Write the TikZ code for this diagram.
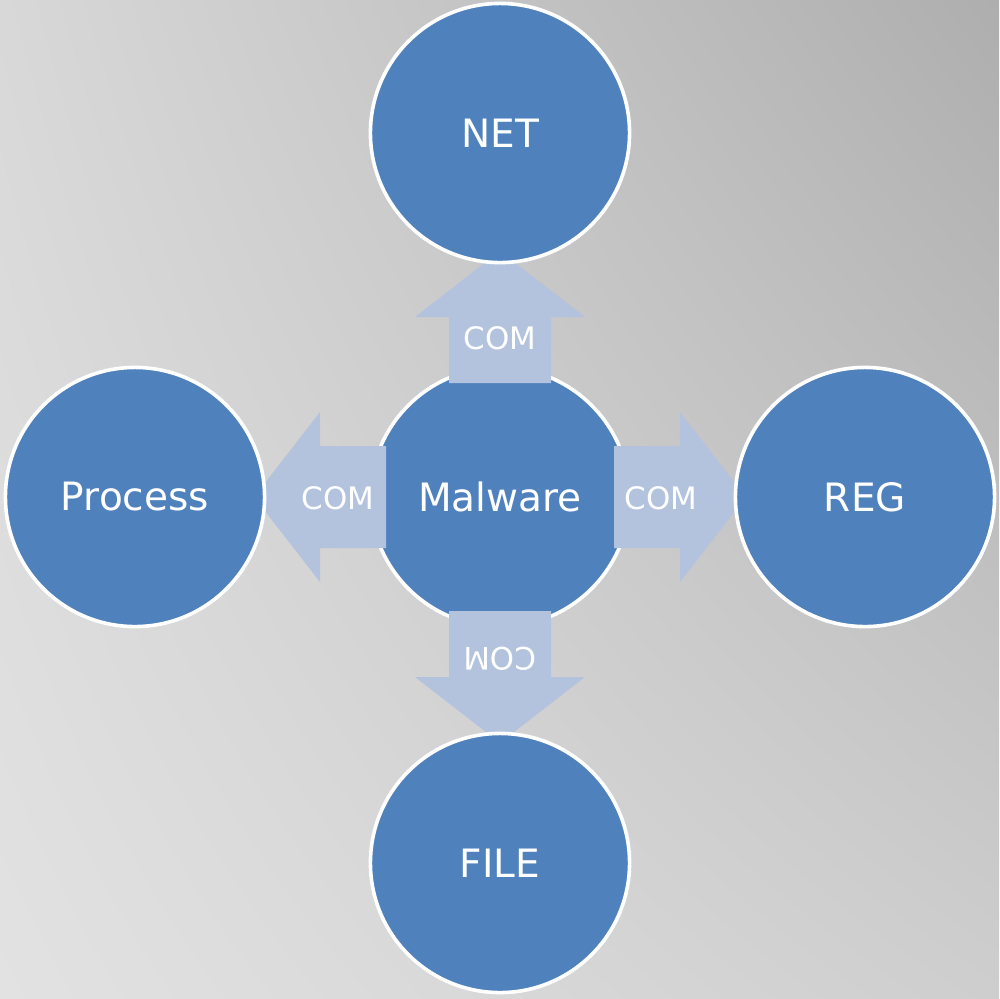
\documentclass[tikz,border=0pt]{standalone}
\usepackage{fontspec}
\setmainfont{DejaVu Sans}
\usetikzlibrary{calc}

% soft grey backdrop, darkest toward the upper right corner
\pgfdeclarefunctionalshading{bgshade}{\pgfpoint{0bp}{0bp}}{\pgfpoint{100bp}{100bp}}{}{
  25 sub 50 div exch 25 sub 50 div exch
  2 copy mul 22 mul
  3 1 roll
  10 mul exch 20 mul add add
  226 exch sub 255 div
  dup dup
}

\definecolor{bubblue}{HTML}{4F81BD}
\definecolor{arrowblue}{HTML}{B3C3DE}

\tikzset{
  x=0.01cm, y=-0.01cm,
  bub/.style={circle, fill=bubblue, draw=white, line width=0.036cm,
    minimum size=2.59cm, inner sep=0pt, text=white,
    font=\fontsize{11.1}{13}\selectfont},
  comlbl/.style={inner sep=0pt, text=white, font=\fontsize{8.8}{10}\selectfont},
  comarrow/.pic={
    \fill[arrowblue] (-51,114) -- (-51,180) -- (-85,180) -- (0,246)
      -- (85,180) -- (51,180) -- (51,114) -- cycle;
  }
}

\begin{document}
\begin{tikzpicture}
  \useasboundingbox (0,0) rectangle (999,999);
  \shade[shading=bgshade] (0,0) rectangle (999,999);

  % hub
  \node[bub] (mal) at (500,497) {Malware};

  % COM arrows from the hub toward each resource
  \pic[rotate=180] at (mal.center) {comarrow};
  \pic[rotate=90]  at (mal.center) {comarrow};
  \pic[rotate=-90] at (mal.center) {comarrow};
  \pic             at (mal.center) {comarrow};

  \node[comlbl] (comnet)  at ($(mal.center)+(0,-159)$) {COM};
  \node[comlbl] (comreg)  at ($(mal.center)+(161,1)$)  {COM};
  \node[comlbl] (comproc) at ($(mal.center)+(-162,1)$) {COM};
  \node[comlbl, rotate=180] (comfile) at ($(mal.center)+(0,162)$) {COM};

  % resources
  \node[bub] (net)  at (500,133) {NET};
  \node[bub] (proc) at (135,497) {Process};
  \node[bub] (reg)  at (865,497) {REG};
  \node[bub] (file) at (500,863) {FILE};
\end{tikzpicture}
\end{document}
